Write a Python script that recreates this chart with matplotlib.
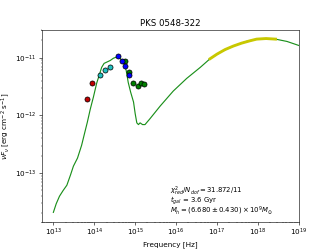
import numpy as np
import matplotlib
matplotlib.use('Agg')
import matplotlib.pyplot as plt

# model SED (log10 nu [Hz], log10 nuFnu [erg cm^-2 s^-1])
logNu = [13.00, 13.07, 13.15, 13.24, 13.33, 13.42, 13.49, 13.59, 13.69, 13.77,
         13.83, 13.90, 13.98, 14.06, 14.11, 14.18, 14.24, 14.30, 14.39, 14.47,
         14.55, 14.63, 14.71, 14.78, 14.83, 14.89, 14.96, 15.00, 15.04, 15.08,
         15.12, 15.18, 15.24, 15.36, 15.61, 15.93, 16.26, 16.59, 16.83, 17.10,
         17.40, 17.72, 17.97, 18.20, 18.43, 18.71, 19.00]
logFlux = [-13.68, -13.53, -13.40, -13.30, -13.21, -13.03, -12.88, -12.74, -12.52, -12.29,
           -12.12, -11.90, -11.68, -11.44, -11.33, -11.17, -11.10, -11.08, -11.05, -11.01,
           -10.99, -11.01, -11.08, -11.22, -11.43, -11.60, -11.77, -11.97, -12.13, -12.16,
           -12.13, -12.16, -12.16, -12.06, -11.84, -11.58, -11.36, -11.17, -11.02, -10.90,
           -10.80, -10.72, -10.68, -10.67, -10.68, -10.72, -10.79]

# X-ray band
logNuX = [16.83, 17.00, 17.20, 17.40, 17.60, 17.80, 17.97, 18.20, 18.43]
logFluxX = [-11.02, -10.94, -10.86, -10.80, -10.75, -10.71, -10.68, -10.67, -10.68]

# photometry
redNu = [6.6e13, 8.9e13]
redF = [1.95e-12, 3.7e-12]
cyanNu = [1.38e14, 1.82e14, 2.45e14]
cyanF = [5.0e-12, 6.2e-12, 6.9e-12]
blueNu = [3.8e14, 4.8e14, 5.6e14, 6.9e14]
blueF = [1.07e-11, 8.7e-12, 7.1e-12, 5.0e-12]
greenNu = [5.6e14, 6.9e14, 8.9e14, 1.15e15, 1.41e15, 1.6e15]
greenF = [8.7e-12, 5.6e-12, 3.6e-12, 3.2e-12, 3.6e-12, 3.55e-12]

nu = 10**np.array(logNu)
flux = 10**np.array(logFlux)

fig = plt.figure(figsize=(6.4, 4.8), dpi=51.875)
ax = fig.add_subplot(111)
ax.plot(nu, flux, color='#1a8f1a', lw=1.6, zorder=2)
ax.plot(10**np.array(logNuX), 10**np.array(logFluxX), color='#c8c800', lw=4, zorder=3)

ms = 7
ax.plot(redNu, redF, 'o', color='#c00000', mec='k', ms=ms, zorder=4)
ax.plot(cyanNu, cyanF, 'o', color='#20c0c0', mec='k', ms=ms, zorder=4)
ax.plot(greenNu, greenF, 'o', color='green', mec='k', ms=ms, zorder=4)
ax.plot(blueNu, blueF, 'o', color='blue', mec='k', ms=ms, zorder=5)

ax.set_xscale('log')
ax.set_yscale('log')
ax.set_xlim(10**12.71, 1e19)
ax.set_ylim(10**-13.84, 10**-10.52)
ax.set_xticks([1e13, 1e14, 1e15, 1e16, 1e17, 1e18, 1e19])
ax.set_xlabel('Frequency [Hz]')
ax.set_ylabel(r'$\nu F_\nu$ [erg cm$^{-2}$ s$^{-1}$]')
ax.set_title('PKS 0548-322')

lines = [r'$\chi^2_{red}/N_{dof} = 31.872/11$',
         r'$t_{gal}$ = 3.6 Gyr',
         r'$M_h = (6.680 \pm 0.430) \times 10^9 M_{\odot}$']
for ypos, s in zip([0.157, 0.107, 0.057], lines):
    ax.text(0.5, ypos, s, transform=ax.transAxes, fontsize=9.5, va='center')

fig.savefig('out.png', dpi=51.875)
